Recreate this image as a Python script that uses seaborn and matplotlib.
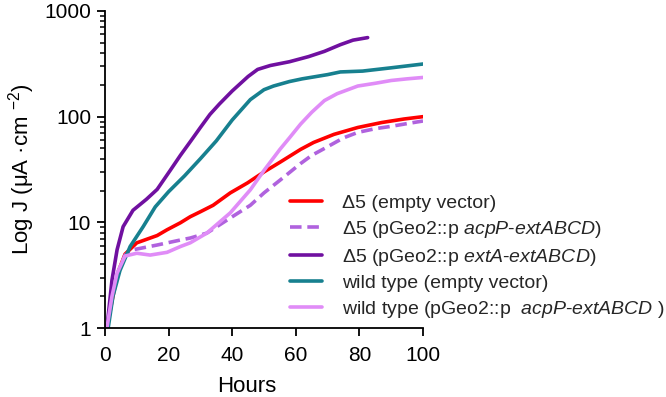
import numpy as np
import pandas as pd
import matplotlib
matplotlib.use('Agg')
import matplotlib.pyplot as plt
import seaborn as sns

# 시리즈별 데이터
d5_empty_h = [0.6, 2.2, 4, 6.3, 10, 16.4, 19.5, 23.7, 26.8, 30, 34, 39.4, 44.8, 50, 55, 61.5, 65.6, 72, 79.5, 87, 94, 100]
d5_empty_j = [1.0, 1.8, 3.3, 5.0, 6.4, 7.5, 8.5, 9.9, 11.3, 12.6, 14.5, 19, 23.6, 30, 37, 49, 57, 68, 79, 88, 95, 100]

d5_acpP_h = [0.6, 2.2, 4, 6.3, 8.8, 16.4, 23.7, 26.8, 32, 39.4, 45.7, 50, 55, 61.5, 65, 69, 75, 79.5, 85, 90, 95, 100]
d5_acpP_j = [1.0, 1.9, 3.3, 4.9, 5.5, 6.1, 6.8, 7.1, 7.9, 11, 14.5, 19, 25, 36, 43, 50, 63, 71, 77, 81, 86, 91]

d5_extA_h = [0.6, 2.2, 3.8, 5.7, 8.8, 13, 16.4, 20.5, 23.7, 27, 30, 33, 36, 40, 45, 48, 52, 58, 64, 69, 74, 78, 82.6]
d5_extA_j = [1.0, 2.85, 5.5, 9.1, 13, 16.5, 20.5, 31, 43, 59, 79, 105, 132, 175, 240, 280, 305, 331, 370, 415, 480, 530, 560]

wt_empty_h = [1, 2.5, 4.7, 7.9, 12, 15.8, 20, 25, 30, 35, 40, 45.7, 50, 53, 58, 62, 70, 74, 81, 90, 100]
wt_empty_j = [1.0, 2.0, 3.5, 5.9, 9.1, 14, 19.5, 27.5, 40, 59, 93, 145, 180, 195, 215, 228, 250, 265, 270, 290, 315]

wt_acpP_h = [0.6, 2.2, 3.8, 6.3, 10, 14.2, 19.5, 23.7, 26.8, 32, 39.4, 45.7, 50, 55, 58, 61.5, 65, 69, 73, 79.5, 85, 90, 95, 100]
wt_acpP_j = [1.0, 2.0, 3.3, 4.8, 5.1, 4.9, 5.2, 5.9, 6.4, 7.9, 12.3, 20.3, 31, 49, 63, 85, 110, 142, 165, 195, 207, 220, 228, 235]

labels = [
    'Δ5 (empty vector)',
    r'Δ5 (pGeo2::p $\mathit{acpP}$-$\mathit{extABCD}$)',
    r'Δ5 (pGeo2::p $\mathit{extA}$-$\mathit{extABCD}$)',
    'wild type (empty vector)',
    r'wild type (pGeo2::p  $\mathit{acpP}$-$\mathit{extABCD}$ )',
]
colors = ['#ff0000', '#b062de', '#7010a0', '#17808f', '#e08cf7']

x_ticks = [0, 20, 40, 60, 80, 100]
y_ticks = [1, 10, 100, 1000]

sns.set_theme(style='ticks')
plt.rcParams['font.family'] = ['Liberation Sans', 'DejaVu Sans']
plt.rcParams['mathtext.fontset'] = 'custom'
plt.rcParams['mathtext.rm'] = 'Liberation Sans'
plt.rcParams['mathtext.it'] = 'Liberation Sans:italic'

fig = plt.figure(figsize=(6.66, 3.97), dpi=100)
ax = fig.add_axes([105/666, 1-328/397, 318/666, 317/397])

series = [(d5_empty_h, d5_empty_j), (d5_acpP_h, d5_acpP_j), (d5_extA_h, d5_extA_j),
          (wt_empty_h, wt_empty_j), (wt_acpP_h, wt_acpP_j)]
for i, (h, j) in enumerate(series):
    ls = (0, (3.2, 1.6)) if i == 1 else '-'
    sns.lineplot(x=h, y=j, color=colors[i], lw=2.6, linestyle=ls, label=labels[i],
                 ax=ax, solid_capstyle='round', dash_capstyle='butt')

ax.set_yscale('log')
ax.set_xlim(0, 100)
ax.set_ylim(1, 1000)
ax.set_xticks(x_ticks)
ax.set_xticklabels([str(t) for t in x_ticks])
ax.set_yticks(y_ticks)
ax.set_yticklabels([str(t) for t in y_ticks])
ax.yaxis.set_minor_locator(matplotlib.ticker.LogLocator(base=10, subs=np.arange(2, 10)))
ax.yaxis.set_minor_formatter(matplotlib.ticker.NullFormatter())

sns.despine(ax=ax)
for s in ['left', 'bottom']:
    ax.spines[s].set_linewidth(1.3)
    ax.spines[s].set_color('black')
ax.tick_params(axis='both', which='major', length=6, width=1.3, color='black',
               labelsize=15, labelcolor='black')
ax.tick_params(axis='x', pad=7)
ax.tick_params(axis='y', pad=4)
ax.tick_params(axis='y', which='minor', length=3.5, width=1.1, color='black')

ax.set_xlabel('Hours', fontsize=16, color='black')
ax.xaxis.set_label_coords(0.447, -0.15)
ax.set_ylabel('Log J (μA ·cm $^{-2}$)', fontsize=16, color='black', labelpad=5)

ax.legend(loc='upper left', bbox_to_anchor=(290/666, 1-194/397), bbox_transform=fig.transFigure,
          frameon=False, fontsize=14, handlelength=1.65, handletextpad=1.05,
          labelspacing=0.36, borderpad=0, borderaxespad=0)

plt.savefig('out.png', dpi=100)
